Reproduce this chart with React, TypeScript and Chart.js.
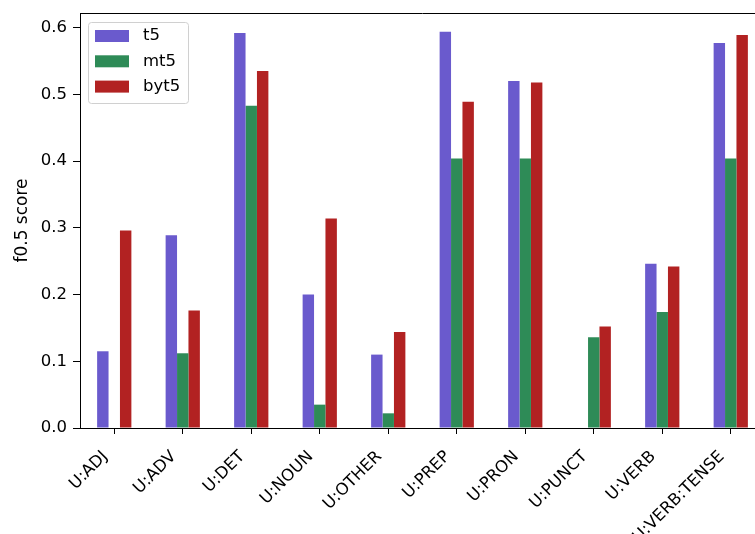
import React, { useEffect, useRef } from "react";
import { Chart, registerables } from "chart.js";

Chart.register(...registerables);

// Error categories and f0.5 scores per model
const categories = [
  "U:ADJ",
  "U:ADV",
  "U:DET",
  "U:NOUN",
  "U:OTHER",
  "U:PREP",
  "U:PRON",
  "U:PUNCT",
  "U:VERB",
  "U:VERB:TENSE",
];
const t5Scores = [0.115, 0.289, 0.592, 0.2, 0.11, 0.594, 0.52, 0, 0.246, 0.577];
const mt5Scores = [0, 0.112, 0.483, 0.035, 0.022, 0.404, 0.404, 0.136, 0.174, 0.404];
const byt5Scores = [0.296, 0.176, 0.535, 0.314, 0.144, 0.489, 0.518, 0.152, 0.242, 0.589];
const yTicks = [0, 0.1, 0.2, 0.3, 0.4, 0.5, 0.6];

const seriesNames = ["t5", "mt5", "byt5"];
const seriesColors = ["#6A5ACD", "#2E8B57", "#B22222"];

const FONT = "'DejaVu Sans', sans-serif";
const FONT_SIZE = 16.5;

// Frame lines (top and right spines) and a legend box inside the plot area
const framePlugin = {
  id: "frame",
  afterDraw(chart: any) {
    const { ctx, chartArea } = chart;
    ctx.save();
    ctx.strokeStyle = "#000";
    ctx.lineWidth = 1;
    ctx.beginPath();
    ctx.moveTo(chartArea.left, chartArea.top + 0.5);
    ctx.lineTo(chartArea.right, chartArea.top + 0.5);
    ctx.moveTo(chartArea.right - 0.5, chartArea.top);
    ctx.lineTo(chartArea.right - 0.5, chartArea.bottom);
    ctx.stroke();

    // legend
    const bx = chartArea.left + 8;
    const by = chartArea.top + 9;
    const bw = 100;
    const bh = 81;
    ctx.fillStyle = "rgba(255,255,255,0.8)";
    ctx.strokeStyle = "#d0d0d0";
    ctx.beginPath();
    ctx.roundRect(bx + 0.5, by + 0.5, bw, bh, 3);
    ctx.fill();
    ctx.stroke();
    ctx.font = `${FONT_SIZE}px ${FONT}`;
    ctx.textBaseline = "middle";
    ctx.textAlign = "left";
    seriesNames.forEach((name, i) => {
      const cy = by + 14 + i * 25.3;
      ctx.fillStyle = seriesColors[i];
      ctx.fillRect(bx + 7, cy - 6, 34, 12);
      ctx.fillStyle = "#000";
      ctx.fillText(name, bx + 55, cy);
    });
    ctx.restore();
  },
};

export default function App() {
  const canvasRef = useRef<HTMLCanvasElement | null>(null);

  useEffect(() => {
    if (!canvasRef.current) return;
    const datasets = [t5Scores, mt5Scores, byt5Scores].map((values, i) => ({
      label: seriesNames[i],
      data: values,
      backgroundColor: seriesColors[i],
      borderWidth: 0,
      categoryPercentage: 0.5,
      barPercentage: 1.0,
    }));

    const chart = new Chart(canvasRef.current, {
      type: "bar",
      data: { labels: categories, datasets },
      options: {
        animation: false,
        responsive: false,
        devicePixelRatio: 1,
        layout: { padding: { top: 13, right: 15, left: 0, bottom: 0 } },
        plugins: {
          legend: { display: false },
          tooltip: { enabled: false },
        },
        scales: {
          x: {
            grid: {
              offset: false,
              drawOnChartArea: false,
              drawTicks: true,
              tickLength: 6,
              color: "#000",
            },
            border: { display: true, color: "#000", width: 1 },
            ticks: {
              autoSkip: false,
              maxRotation: 45,
              minRotation: 45,
              padding: 13,
              labelOffset: -9,
              color: "#000",
              font: { family: FONT, size: FONT_SIZE },
            },
            afterFit(scale: any) {
              scale.height = 106;
              scale.paddingLeft = 0;
              scale.paddingRight = 0;
            },
          },
          y: {
            min: 0,
            max: 0.622,
            afterBuildTicks(scale: any) {
              scale.ticks = yTicks.map((v) => ({ value: v }));
            },
            grid: {
              drawOnChartArea: false,
              drawTicks: true,
              tickLength: 7,
              color: "#000",
            },
            border: { display: true, color: "#000", width: 1 },
            ticks: {
              padding: 6,
              color: "#000",
              font: { family: FONT, size: FONT_SIZE },
              callback: (v: any) => Number(v).toFixed(1),
            },
            title: {
              display: true,
              text: "f0.5 score",
              color: "#000",
              font: { family: FONT, size: 17 },
              padding: { top: 12, bottom: 0 },
            },
            afterFit(scale: any) {
              scale.width = 80;
              scale.paddingTop = 0;
              scale.paddingBottom = 0;
            },
          },
        },
      },
      plugins: [framePlugin],
    });

    return () => chart.destroy();
  }, []);

  return (
    <div
      style={{
        position: "fixed",
        left: 0,
        top: 0,
        width: 755,
        height: 534,
        overflow: "hidden",
        background: "#fff",
      }}
    >
      <canvas ref={canvasRef} width={780} height={534} style={{ display: "block" }} />
    </div>
  );
}
